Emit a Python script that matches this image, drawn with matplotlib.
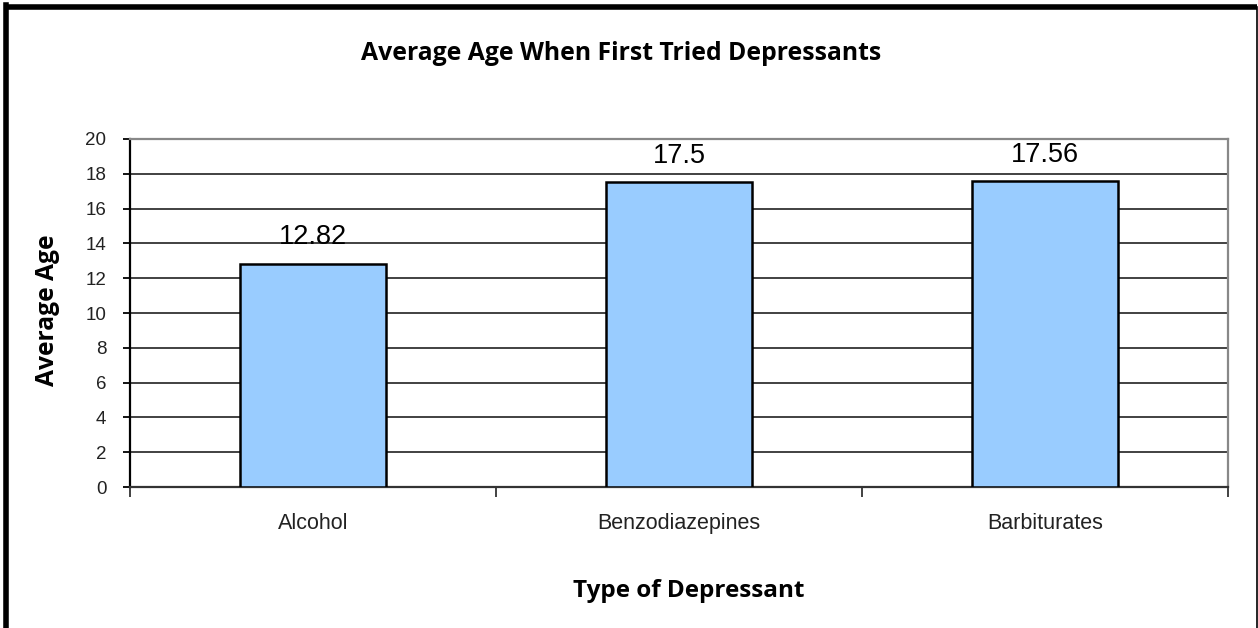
import matplotlib
matplotlib.use("Agg")
import matplotlib.pyplot as plt
from matplotlib.lines import Line2D

# depressant types and the average age of first use
depressants = ["Alcohol", "Benzodiazepines", "Barbiturates"]
avg_age = [12.82, 17.5, 17.56]
value_labels = ["12.82", "17.5", "17.56"]

W, H = 1258, 628
fig = plt.figure(figsize=(W / 100, H / 100), dpi=100)
ax = fig.add_axes([130 / W, 1 - 487 / H, 1098 / W, 348 / H])

x = list(range(len(depressants)))
ax.bar(x, avg_age, width=0.4, color="#99CCFF", edgecolor="black", linewidth=1.8, zorder=3)

for xi, v, lab in zip(x, avg_age, value_labels):
    ax.text(xi, v + 0.8, lab, ha="center", va="bottom", fontsize=19.5,
            family="Liberation Sans", color="black")

ax.set_xlim(-0.5, 2.5)
ax.set_ylim(0, 20)
ax.set_yticks(range(0, 21, 2))
ax.yaxis.grid(True, color="#333333", linewidth=1.3, zorder=0)
ax.set_axisbelow(True)

# category labels centred on bars, ticks between categories
ax.set_xticks([-0.5, 0.5, 1.5, 2.5])
ax.set_xticklabels([])
ax.tick_params(axis="x", length=7, width=1.3, color="#333333")
for xi, name in zip(x, depressants):
    ax.text(xi, -2.1, name, ha="center", va="center", fontsize=15.5,
            family="Liberation Sans", color="#222222")

ax.tick_params(axis="y", length=5, width=1.3, labelsize=13.5, pad=12, color="black")
for lbl in ax.get_yticklabels():
    lbl.set_family("Liberation Sans")
    lbl.set_color("#222222")

ax.spines["left"].set_color("black")
ax.spines["left"].set_linewidth(1.6)
ax.spines["bottom"].set_color("#333333")
ax.spines["bottom"].set_linewidth(1.6)
ax.spines["top"].set_color("#888888")
ax.spines["top"].set_linewidth(1.6)
ax.spines["right"].set_color("#888888")
ax.spines["right"].set_linewidth(1.6)

fig.text(48 / W, 1 - 310 / H, "Average Age", ha="center", va="center", rotation=90,
         fontsize=17.7, fontweight="bold", family="Open Sans")
fig.text(689 / W, 1 - 591 / H, "Type of Depressant", ha="center", va="center",
         fontsize=17.5, fontweight="bold", family="Open Sans")
fig.text(621 / W, 1 - 53 / H, "Average Age When First Tried Depressants", ha="center",
         va="center", fontsize=17.8, fontweight="bold", family="Open Sans")

# outer frame: heavy left and top edges, thin right edge
fig.add_artist(Line2D([6.5 / W, 6.5 / W], [0, 1 - 5 / H], transform=fig.transFigure,
                      color="black", linewidth=4, solid_capstyle="projecting"))
fig.add_artist(Line2D([6.5 / W, 1256.5 / W], [1 - 7 / H, 1 - 7 / H], transform=fig.transFigure,
                      color="black", linewidth=4, solid_capstyle="butt"))
fig.add_artist(Line2D([1256.5 / W, 1256.5 / W], [0, 1 - 7 / H], transform=fig.transFigure,
                      color="black", linewidth=1.2))

fig.savefig("out.png", dpi=100)
